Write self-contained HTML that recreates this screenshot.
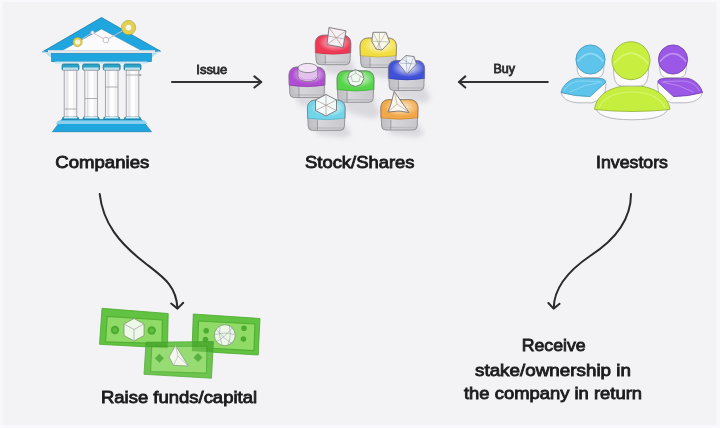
<!DOCTYPE html>
<html><head><meta charset="utf-8">
<style>
html,body{margin:0;padding:0;width:720px;height:428px;overflow:hidden;background:#f9f9fd;}
svg{display:block;filter:blur(0.35px);}
text{font-family:"Liberation Sans",sans-serif;fill:#1c1c1e;}
</style></head>
<body>
<svg width="720" height="428" viewBox="0 0 720 428">
<defs><filter id="blur" x="-50%" y="-50%" width="200%" height="200%"><feGaussianBlur stdDeviation="2.5"/></filter></defs>
<rect x="0" y="0" width="720" height="428" fill="#f9f9fd"/>
<linearGradient id="lb" x1="0" y1="0" x2="1" y2="0"><stop offset="0" stop-color="#f9f9fd"/><stop offset="1" stop-color="#f3f3f6"/></linearGradient>
<rect x="2" y="2" width="714.5" height="423" fill="#f3f3f6"/>
<rect x="0" y="2" width="4.5" height="423" fill="url(#lb)"/>

<!-- labels -->
<g font-weight="400" font-size="17" stroke="#1c1c1e" stroke-width="0.85">
<text x="55.3" y="168" textLength="94" lengthAdjust="spacingAndGlyphs">Companies</text>
<text x="305" y="168" textLength="109.5" lengthAdjust="spacingAndGlyphs">Stock/Shares</text>
<text x="596" y="168" textLength="72" lengthAdjust="spacingAndGlyphs">Investors</text>
<text x="101" y="402.5" textLength="156" lengthAdjust="spacingAndGlyphs">Raise funds/capital</text>
<text x="521.7" y="351.4" textLength="64" lengthAdjust="spacingAndGlyphs">Receive</text>
<text x="475" y="375.5" textLength="156" lengthAdjust="spacingAndGlyphs">stake/ownership in</text>
<text x="464" y="398.5" textLength="178" lengthAdjust="spacingAndGlyphs">the company in return</text>
</g>
<g font-weight="400" font-size="12" stroke="#2e2e30" stroke-width="0.8" style="fill:#2e2e30">
<text x="196.3" y="73.6" textLength="31" lengthAdjust="spacingAndGlyphs">Issue</text>
<text x="493.5" y="73.3" textLength="21.5" lengthAdjust="spacingAndGlyphs">Buy</text>
</g>

<!-- bank -->
<g id="bank">
<!-- roof -->
<polygon points="42.5,51.8 101.5,17.5 160.5,51.2" fill="#20a6de" stroke="#1a7fae" stroke-width="0.8" stroke-linejoin="round"/>
<polygon points="61.5,50.8 101.5,29 142,50.8" fill="#fbfbfd" stroke="#1a7fae" stroke-width="0.5"/>
<polyline points="77.5,42 92.5,32.5 105.8,40 128.5,27.6" fill="none" stroke="#c9bfc6" stroke-width="1"/>
<circle cx="92.5" cy="32.5" r="1.6" fill="#fff" stroke="#c9bfc6" stroke-width="0.9"/>
<circle cx="105.8" cy="40" r="2.8" fill="#fff" stroke="#c9bfc6" stroke-width="1"/>
<circle cx="77.6" cy="42" r="3.6" fill="#f6f4e2" stroke="#e2cf45" stroke-width="2"/>
<circle cx="77.6" cy="42" r="4.7" fill="none" stroke="#a59a4a" stroke-width="0.5"/>
<circle cx="128.5" cy="27.6" r="5.2" fill="#f8f6ea" stroke="#e4d04a" stroke-width="3.6"/>
<circle cx="128.5" cy="27.6" r="7.2" fill="none" stroke="#b0a040" stroke-width="0.7"/><circle cx="128.5" cy="27.6" r="3.3" fill="none" stroke="#c8b640" stroke-width="0.5"/>
<!-- pediment base line -->
<rect x="48" y="50.2" width="107" height="2.8" fill="#e2e5e9"/>
<!-- entablature -->
<polygon points="42.5,51 52.5,54 52.5,62 60,64.5" fill="#b5def0"/>
<polygon points="160,51 150,54 150,62 143,64.5" fill="#b5def0"/>
<polygon points="43,51 52.5,54 52.5,62 60,64.5 143,64.5 150,62 150,54 159.5,51 153,51 48,51" fill="#b8e0f2" opacity="0"/>
<rect x="51.5" y="53.3" width="100" height="8.3" fill="#20a6de" stroke="#1a7fae" stroke-width="0.6"/>
<rect x="55" y="61.6" width="92" height="2.3" fill="#cfe9f5"/>
<!-- columns -->
<g id="col">
<rect x="62" y="64" width="17" height="6.2" rx="1.5" fill="#2aa3c6" stroke="#1b6f8a" stroke-width="0.7"/>
<rect x="63" y="67.5" width="15" height="2.6" fill="#bfe3ee"/>
<rect x="64.2" y="70.2" width="12.6" height="47" fill="#f2f2f5" stroke="#9c9ca2" stroke-width="0.9"/>
<line x1="67" y1="71" x2="67" y2="117" stroke="#d4d4d9" stroke-width="0.8"/><rect x="69" y="71" width="4" height="46" fill="#fdfdfe"/>
<rect x="62.5" y="117.2" width="16" height="3" rx="1" fill="#2aa3c6" stroke="#1b6f8a" stroke-width="0.7"/>
<rect x="64" y="117" width="13" height="1.3" fill="#d8eef6"/>
</g>
<use href="#col" x="20.6"/>
<use href="#col" x="41.2"/>
<use href="#col" x="62"/>
<line x1="64.5" y1="109" x2="76.5" y2="109" stroke="#9c9ca2" stroke-width="0.8"/>
<line x1="85" y1="98.5" x2="97.5" y2="98.5" stroke="#9c9ca2" stroke-width="0.8"/>
<line x1="105.5" y1="87" x2="118" y2="87" stroke="#9c9ca2" stroke-width="0.8"/>
<line x1="126" y1="75" x2="138.5" y2="75" stroke="#9c9ca2" stroke-width="0.8"/>
<rect x="138.8" y="74.2" width="2.5" height="1.6" fill="#9c9ca2"/>
<!-- base -->
<polygon points="61.7,119.5 141.5,119.5 151.5,131.7 52.5,131.7" fill="#20a6de" stroke="#1a7fae" stroke-width="0.7" stroke-linejoin="round"/>
<polygon points="58.5,120.5 144.5,120.5 147.5,124 55.5,124" fill="#8ad0ec"/>
</g>

<!-- blocks start -->
<defs>
<radialGradient id="g_red" cx="0.55" cy="0.38" r="0.62"><stop offset="0" stop-color="#fafafa"/><stop offset="0.35" stop-color="#f590a4"/><stop offset="0.75" stop-color="#ee3a55"/><stop offset="1" stop-color="#ee3a55"/></radialGradient>
<radialGradient id="g_yellow" cx="0.55" cy="0.38" r="0.62"><stop offset="0" stop-color="#fafafa"/><stop offset="0.35" stop-color="#f8ee9c"/><stop offset="0.75" stop-color="#f2de3e"/><stop offset="1" stop-color="#f2de3e"/></radialGradient>
<radialGradient id="g_purple" cx="0.55" cy="0.38" r="0.62"><stop offset="0" stop-color="#fafafa"/><stop offset="0.35" stop-color="#dca8ec"/><stop offset="0.75" stop-color="#b04ed2"/><stop offset="1" stop-color="#b04ed2"/></radialGradient>
<radialGradient id="g_green" cx="0.55" cy="0.38" r="0.62"><stop offset="0" stop-color="#fafafa"/><stop offset="0.35" stop-color="#a6eaa0"/><stop offset="0.75" stop-color="#56d44a"/><stop offset="1" stop-color="#56d44a"/></radialGradient>
<radialGradient id="g_blue" cx="0.55" cy="0.38" r="0.62"><stop offset="0" stop-color="#fafafa"/><stop offset="0.35" stop-color="#a0a8ea"/><stop offset="0.75" stop-color="#4050d8"/><stop offset="1" stop-color="#4050d8"/></radialGradient>
<radialGradient id="g_cyan" cx="0.55" cy="0.38" r="0.62"><stop offset="0" stop-color="#fafafa"/><stop offset="0.35" stop-color="#c0ecf4"/><stop offset="0.75" stop-color="#72d4e8"/><stop offset="1" stop-color="#72d4e8"/></radialGradient>
<radialGradient id="g_orange" cx="0.55" cy="0.38" r="0.62"><stop offset="0" stop-color="#fafafa"/><stop offset="0.35" stop-color="#f8d09a"/><stop offset="0.75" stop-color="#f2a848"/><stop offset="1" stop-color="#f2a848"/></radialGradient>
<linearGradient id="gbody" x1="0" y1="0" x2="1" y2="0"><stop offset="0" stop-color="#bdbdc2"/><stop offset="0.28" stop-color="#cbcbcf"/><stop offset="0.29" stop-color="#d8d8dc"/><stop offset="1" stop-color="#c8c8cc"/></linearGradient>
</defs>
<path d="M319.3,56.7 L348.8,56.7 L356.8,72.7 Q354.8,76.7 346.8,76.7 L325.3,71.9 Z" fill="#d9d9de" filter="url(#blur)"/>
<path d="M364.0,59.5 L394.5,59.5 L402.5,75.5 Q400.5,79.5 392.5,79.5 L370.0,74.7 Z" fill="#d9d9de" filter="url(#blur)"/>
<path d="M293.0,89.5 L323.0,89.5 L331.0,105.5 Q329.0,109.5 321.0,109.5 L299.0,104.7 Z" fill="#d9d9de" filter="url(#blur)"/>
<path d="M341.0,94.3 L372.0,94.3 L380.0,114.3 Q378.0,118.3 370.0,118.3 L347.0,111.9 Z" fill="#d9d9de" filter="url(#blur)"/>
<path d="M392.4,82.5 L422.6,82.5 L430.6,98.5 Q428.6,102.5 420.6,102.5 L398.4,97.7 Z" fill="#d9d9de" filter="url(#blur)"/>
<path d="M311.4,122.4 L343.2,122.4 L351.2,133.4 Q349.2,137.4 341.2,137.4 L317.4,134.6 Z" fill="#d9d9de" filter="url(#blur)"/>
<path d="M384.8,122.0 L416.0,122.0 L424.0,133.0 Q422.0,137.0 414.0,137.0 L390.8,134.2 Z" fill="#d9d9de" filter="url(#blur)"/>
<g>
<path d="M324.3,35.2 H341.8 C347.8,35.2 350.8,38.2 350.8,44.2 L350.0,60.7 Q349.8,64.7 345.8,64.7 H320.3 Q316.3,64.7 316.1,60.7 L315.3,44.2 C315.3,38.2 318.3,35.2 324.3,35.2 Z" fill="url(#gbody)"/>
<line x1="316.3" y1="62.2" x2="349.8" y2="62.2" stroke="#bcbcc1" stroke-width="1.5"/>
<line x1="325.3" y1="54.8" x2="325.3" y2="64.2" stroke="#85858b" stroke-width="0.7"/>
<path d="M324.3,35.2 H341.8 C347.8,35.2 350.8,38.2 350.8,44.2 V52.8 Q333.1,55.8 315.3,52.8 V44.2 C315.3,38.2 318.3,35.2 324.3,35.2 Z" fill="url(#g_red)" stroke="#b02a40" stroke-width="0.5"/>
<path d="M324.3,35.2 H341.8 C347.8,35.2 350.8,38.2 350.8,44.2 L350.0,60.7 Q349.8,64.7 345.8,64.7 H320.3 Q316.3,64.7 316.1,60.7 L315.3,44.2 C315.3,38.2 318.3,35.2 324.3,35.2 Z" fill="none" stroke="#808086" stroke-width="0.75"/>
<polygon points="329,27.5 346,30.8 343,47.5 327,44.5" fill="#f6f0f2" stroke="#66666c" stroke-width="0.8" stroke-linejoin="round"/>
<path d="M329,27.5 L343,47.5 M346,30.8 L327,44.5 M328,36 L344.5,39" fill="none" stroke="#a08890" stroke-width="0.6"/>
</g>
<g>
<path d="M369.0,38.0 H387.5 C393.5,38.0 396.5,41.0 396.5,47.0 L395.7,63.5 Q395.5,67.5 391.5,67.5 H365.0 Q361.0,67.5 360.8,63.5 L360.0,47.0 C360.0,41.0 363.0,38.0 369.0,38.0 Z" fill="url(#gbody)"/>
<line x1="361.0" y1="65.0" x2="395.5" y2="65.0" stroke="#bcbcc1" stroke-width="1.5"/>
<line x1="370.0" y1="57.6" x2="370.0" y2="67.0" stroke="#85858b" stroke-width="0.7"/>
<path d="M369.0,38.0 H387.5 C393.5,38.0 396.5,41.0 396.5,47.0 V55.6 Q378.2,58.6 360.0,55.6 V47.0 C360.0,41.0 363.0,38.0 369.0,38.0 Z" fill="url(#g_yellow)" stroke="#a89828" stroke-width="0.5"/>
<path d="M369.0,38.0 H387.5 C393.5,38.0 396.5,41.0 396.5,47.0 L395.7,63.5 Q395.5,67.5 391.5,67.5 H365.0 Q361.0,67.5 360.8,63.5 L360.0,47.0 C360.0,41.0 363.0,38.0 369.0,38.0 Z" fill="none" stroke="#808086" stroke-width="0.75"/>
<polygon points="373,32.3 386,32.3 389.6,42 382,50 376,49 371.8,41.2" fill="#faf8ea" stroke="#66666c" stroke-width="0.8" stroke-linejoin="round"/>
<path d="M373,32.3 L382,50 M386,32.3 L376,49 M371.8,41.2 L389.6,42 M379.5,32.3 L379,49.5" fill="none" stroke="#a0a090" stroke-width="0.55"/>
</g>
<g>
<path d="M298.0,67.0 H316.0 C322.0,67.0 325.0,70.0 325.0,76.0 L324.2,93.5 Q324.0,97.5 320.0,97.5 H294.0 Q290.0,97.5 289.8,93.5 L289.0,76.0 C289.0,70.0 292.0,67.0 298.0,67.0 Z" fill="url(#gbody)"/>
<line x1="290.0" y1="95.0" x2="324.0" y2="95.0" stroke="#bcbcc1" stroke-width="1.5"/>
<line x1="299.0" y1="87.2" x2="299.0" y2="97.0" stroke="#85858b" stroke-width="0.7"/>
<path d="M298.0,67.0 H316.0 C322.0,67.0 325.0,70.0 325.0,76.0 V85.2 Q307.0,88.2 289.0,85.2 V76.0 C289.0,70.0 292.0,67.0 298.0,67.0 Z" fill="url(#g_purple)" stroke="#7a2a98" stroke-width="0.5"/>
<path d="M298.0,67.0 H316.0 C322.0,67.0 325.0,70.0 325.0,76.0 L324.2,93.5 Q324.0,97.5 320.0,97.5 H294.0 Q290.0,97.5 289.8,93.5 L289.0,76.0 C289.0,70.0 292.0,67.0 298.0,67.0 Z" fill="none" stroke="#808086" stroke-width="0.75"/>
<path d="M298,68 V76.5 A9.8,5 0 0 0 317.7,76.5 V68" fill="#e4c0ee" stroke="#6a6a70" stroke-width="0.7"/>
<ellipse cx="307.85" cy="68" rx="9.85" ry="4.6" fill="#f2e4f6" stroke="#6a6a70" stroke-width="0.7"/>
<path d="M300,77 A8,3.5 0 0 0 315.7,77" fill="none" stroke="#c88ee0" stroke-width="0.8"/>
</g>
<g>
<path d="M346.0,70.8 H365.0 C371.0,70.8 374.0,73.8 374.0,79.8 L373.2,98.3 Q373.0,102.3 369.0,102.3 H342.0 Q338.0,102.3 337.8,98.3 L337.0,79.8 C337.0,73.8 340.0,70.8 346.0,70.8 Z" fill="url(#gbody)"/>
<line x1="338.0" y1="99.8" x2="373.0" y2="99.8" stroke="#bcbcc1" stroke-width="1.5"/>
<line x1="347.0" y1="91.6" x2="347.0" y2="101.8" stroke="#85858b" stroke-width="0.7"/>
<path d="M346.0,70.8 H365.0 C371.0,70.8 374.0,73.8 374.0,79.8 V89.6 Q355.5,92.6 337.0,89.6 V79.8 C337.0,73.8 340.0,70.8 346.0,70.8 Z" fill="url(#g_green)" stroke="#2f9a2c" stroke-width="0.5"/>
<path d="M346.0,70.8 H365.0 C371.0,70.8 374.0,73.8 374.0,79.8 L373.2,98.3 Q373.0,102.3 369.0,102.3 H342.0 Q338.0,102.3 337.8,98.3 L337.0,79.8 C337.0,73.8 340.0,70.8 346.0,70.8 Z" fill="none" stroke="#808086" stroke-width="0.75"/>
<polygon points="355.7,69.7 362,72.5 364,78.5 361,84.5 355.7,86.5 350,84.5 347.4,78.5 349.4,72.5" fill="#f0faee" stroke="#66666c" stroke-width="0.8" stroke-linejoin="round"/>
<path d="M351,76 L355.7,73 L360.5,76 L359,81.5 L352.5,81.5 Z M355.7,69.7 V73 M364,78.5 L360.5,76 M347.4,78.5 L351,76" fill="none" stroke="#909a90" stroke-width="0.55"/>
</g>
<g>
<path d="M397.4,60.5 H415.6 C421.6,60.5 424.6,63.5 424.6,69.5 L423.8,86.5 Q423.6,90.5 419.6,90.5 H393.4 Q389.4,90.5 389.2,86.5 L388.4,69.5 C388.4,63.5 391.4,60.5 397.4,60.5 Z" fill="url(#gbody)"/>
<line x1="389.4" y1="88.0" x2="423.6" y2="88.0" stroke="#bcbcc1" stroke-width="1.5"/>
<line x1="398.4" y1="80.4" x2="398.4" y2="90.0" stroke="#85858b" stroke-width="0.7"/>
<path d="M397.4,60.5 H415.6 C421.6,60.5 424.6,63.5 424.6,69.5 V78.4 Q406.5,81.4 388.4,78.4 V69.5 C388.4,63.5 391.4,60.5 397.4,60.5 Z" fill="url(#g_blue)" stroke="#26309a" stroke-width="0.5"/>
<path d="M397.4,60.5 H415.6 C421.6,60.5 424.6,63.5 424.6,69.5 L423.8,86.5 Q423.6,90.5 419.6,90.5 H393.4 Q389.4,90.5 389.2,86.5 L388.4,69.5 C388.4,63.5 391.4,60.5 397.4,60.5 Z" fill="none" stroke="#808086" stroke-width="0.75"/>
<polygon points="398,63 406,55.5 414,56.5 416.5,64 407,74" fill="#f0f2fa" stroke="#66666c" stroke-width="0.8" stroke-linejoin="round"/>
<path d="M398,63 L416.5,64 M406,55.5 L407,74 M414,56.5 L407,74 M402,59 L411,64" fill="none" stroke="#9098b0" stroke-width="0.55"/>
</g>
<g>
<path d="M316.4,100.0 H336.2 C342.2,100.0 345.2,103.0 345.2,109.0 L344.4,126.4 Q344.2,130.4 340.2,130.4 H312.4 Q308.4,130.4 308.2,126.4 L307.4,109.0 C307.4,103.0 310.4,100.0 316.4,100.0 Z" fill="url(#gbody)"/>
<line x1="308.4" y1="127.9" x2="344.2" y2="127.9" stroke="#bcbcc1" stroke-width="1.5"/>
<line x1="317.4" y1="120.2" x2="317.4" y2="129.9" stroke="#85858b" stroke-width="0.7"/>
<path d="M316.4,100.0 H336.2 C342.2,100.0 345.2,103.0 345.2,109.0 V118.2 Q326.3,121.2 307.4,118.2 V109.0 C307.4,103.0 310.4,100.0 316.4,100.0 Z" fill="url(#g_cyan)" stroke="#3a9eb4" stroke-width="0.5"/>
<path d="M316.4,100.0 H336.2 C342.2,100.0 345.2,103.0 345.2,109.0 L344.4,126.4 Q344.2,130.4 340.2,130.4 H312.4 Q308.4,130.4 308.2,126.4 L307.4,109.0 C307.4,103.0 310.4,100.0 316.4,100.0 Z" fill="none" stroke="#808086" stroke-width="0.75"/>
<polygon points="326,94.5 336.5,100 336.5,110.5 326,116 315.5,110.5 315.5,100" fill="#f2fafa" stroke="#66666c" stroke-width="0.8" stroke-linejoin="round"/>
<path d="M315.5,100 L336.5,110.5 M336.5,100 L315.5,110.5 M326,94.5 V116" fill="none" stroke="#a08a80" stroke-width="0.6"/>
</g>
<g>
<path d="M389.8,99.6 H409.0 C415.0,99.6 418.0,102.6 418.0,108.6 L417.2,126.0 Q417.0,130.0 413.0,130.0 H385.8 Q381.8,130.0 381.6,126.0 L380.8,108.6 C380.8,102.6 383.8,99.6 389.8,99.6 Z" fill="url(#gbody)"/>
<line x1="381.8" y1="127.5" x2="417.0" y2="127.5" stroke="#bcbcc1" stroke-width="1.5"/>
<line x1="390.8" y1="119.8" x2="390.8" y2="129.5" stroke="#85858b" stroke-width="0.7"/>
<path d="M389.8,99.6 H409.0 C415.0,99.6 418.0,102.6 418.0,108.6 V117.8 Q399.4,120.8 380.8,117.8 V108.6 C380.8,102.6 383.8,99.6 389.8,99.6 Z" fill="url(#g_orange)" stroke="#b07020" stroke-width="0.5"/>
<path d="M389.8,99.6 H409.0 C415.0,99.6 418.0,102.6 418.0,108.6 L417.2,126.0 Q417.0,130.0 413.0,130.0 H385.8 Q381.8,130.0 381.6,126.0 L380.8,108.6 C380.8,102.6 383.8,99.6 389.8,99.6 Z" fill="none" stroke="#808086" stroke-width="0.75"/>
<polygon points="394.2,91.4 409,112.5 399,111 388,112 391,104" fill="#fbf6ee" stroke="#66666c" stroke-width="0.8" stroke-linejoin="round"/>
<path d="M394.2,91.4 L397,104 L388,112 M397,104 L409,112.5" fill="none" stroke="#a09080" stroke-width="0.55"/>
</g>
<!-- blocks end -->

<!-- people start -->
<path d="M561,92.5 Q563,101.5 577,102.8 L592,102.8 Q601,100 605,92 L606,84 L605.5,82 Z" fill="#fbfbfd" stroke="#a8a8ae" stroke-width="0.8" stroke-linejoin="round"/>
<path d="M561,92.5 C562.5,86 569,79 577,78.2 L601,78.6 C604,78.9 606,80.5 605.5,82.5 L590,96.6 Q575,96.5 561,92.5 Z" fill="#5fc4ec" stroke="#3e94b8" stroke-width="0.8" stroke-linejoin="round"/>
<path d="M564,91 C567,85 573,81 582,81 L600,81.5 M570,92 Q585,84 602,82" fill="none" stroke="#9adcf6" stroke-width="1" opacity="0.7"/>
<path d="M577.068,64.61 Q576.63,77.5 583.2,77.5 L597.8,77.5 Q604.37,77.5 603.932,64.61 Z" fill="#fbfbfd" stroke="#a8a8ae" stroke-width="0.8"/>
<circle cx="590.5" cy="59.5" r="14.6" fill="#5fc4ec" stroke="#3e94b8" stroke-width="0.8"/>
<path d="M577.36,61.69 Q590.5,45.63 603.64,61.69" fill="none" stroke="#9adcf6" stroke-width="1.6" opacity="0.85"/>
<g transform="translate(1263.5 0) scale(-1 1)"><path d="M561,92.5 Q563,101.5 577,102.8 L592,102.8 Q601,100 605,92 L606,84 L605.5,82 Z" fill="#fbfbfd" stroke="#a8a8ae" stroke-width="0.8" stroke-linejoin="round"/>
<path d="M561,92.5 C562.5,86 569,79 577,78.2 L601,78.6 C604,78.9 606,80.5 605.5,82.5 L590,96.6 Q575,96.5 561,92.5 Z" fill="#9b58e6" stroke="#6b3aaa" stroke-width="0.8" stroke-linejoin="round"/>
<path d="M564,91 C567,85 573,81 582,81 L600,81.5 M570,92 Q585,84 602,82" fill="none" stroke="#c49af2" stroke-width="1" opacity="0.7"/>
<path d="M577.068,64.61 Q576.63,77.5 583.2,77.5 L597.8,77.5 Q604.37,77.5 603.932,64.61 Z" fill="#fbfbfd" stroke="#a8a8ae" stroke-width="0.8"/>
<circle cx="590.5" cy="59.5" r="14.6" fill="#9b58e6" stroke="#6b3aaa" stroke-width="0.8"/>
<path d="M577.36,61.69 Q590.5,45.63 603.64,61.69" fill="none" stroke="#c49af2" stroke-width="1.6" opacity="0.85"/></g>
<path d="M595.5,106 Q596,119.8 632,119.8 Q668,119.8 668.5,106 Z" fill="#fbfbfd" stroke="#a8a8ae" stroke-width="0.8"/>
<path d="M594.5,109.5 C596,95 611,85.5 632,85.5 C653,85.5 668,95 670,109.5 Q632,113.5 594.5,109.5 Z" fill="#c6ee3e" stroke="#8fae3a" stroke-width="0.8"/>
<path d="M599,108 C603,98 615,92 632,92 C649,92 661,98 665,108" fill="none" stroke="#dcf87e" stroke-width="1.2" opacity="0.85"/>
<path d="M613.52,67.35000000000001 Q612.95,86 621.5,86 L640.5,86 Q649.05,86 648.48,67.35000000000001 Z" fill="#fbfbfd" stroke="#a8a8ae" stroke-width="0.8"/>
<circle cx="631" cy="60.7" r="19" fill="#c8ee40" stroke="#8fae3a" stroke-width="0.8"/>
<path d="M613.9,63.550000000000004 Q631,42.650000000000006 648.1,63.550000000000004" fill="none" stroke="#dcf87e" stroke-width="1.6" opacity="0.85"/>
<!-- people end -->
<!-- money start -->
<g><polygon points="102,308.3 168.2,313.5 167.5,348 99.5,344.3" fill="#62c242" stroke="#4aa82c" stroke-width="0.8" stroke-linejoin="round"/>
<polygon points="107.2,316.3 162.4,320 162,343.5 105.5,341.8" fill="#90da68" stroke="#52b032" stroke-width="1.2" stroke-linejoin="round"/>
<circle cx="115" cy="330" r="4.2" fill="#4cac30"/><circle cx="115" cy="330" r="2" fill="#62c242"/>
<circle cx="151.7" cy="330.5" r="4.2" fill="#4cac30"/><circle cx="151.7" cy="330.5" r="2" fill="#62c242"/>
<polygon points="134,318.5 144,324 144,335.5 134,341 124,335.5 124,324" fill="#eef8e8" stroke="#7a9a70" stroke-width="0.8"/>
<path d="M124,324 L134,329.5 L144,324 M134,329.5 V341" fill="none" stroke="#9aa0a0" stroke-width="0.7"/></g>
<g><polygon points="193.3,314 260,318.5 258.2,355 192,351" fill="#62c242" stroke="#4aa82c" stroke-width="0.8" stroke-linejoin="round"/>
<polygon points="198.5,321 255,324 254,350.6 197.5,347.5" fill="#90da68" stroke="#52b032" stroke-width="1.2" stroke-linejoin="round"/>
<circle cx="206.2" cy="330.7" r="2.8" fill="#4cac30"/><circle cx="205.5" cy="339.5" r="2.8" fill="#4cac30"/>
<circle cx="244" cy="328.3" r="2.8" fill="#4cac30"/><circle cx="243.4" cy="339" r="2.8" fill="#4cac30"/>
<circle cx="224.8" cy="335.2" r="10.5" fill="#eef8e8" stroke="#7a9a70" stroke-width="0.8"/>
<path d="M216,329 Q225,340 233,344 M233,327 Q224,338 216,342 M214.5,335 Q225,331 235,335 M220,325.5 Q218,335 222,345 M229,325.5 Q232,335 228,345" fill="none" stroke="#9aa0a8" stroke-width="0.6"/></g>
<g opacity="0.92"><polygon points="146,342.2 213.4,341.6 211.5,378.2 144,374.3" fill="#62c242" stroke="#4aa82c" stroke-width="0.8" stroke-linejoin="round"/>
<polygon points="151.7,346.5 207,346 206.5,373.2 150.5,371.5" fill="#90da68" stroke="#52b032" stroke-width="1.2" stroke-linejoin="round"/>
<polygon points="159.4,353.8 163.9,358.3 159.4,362.8 154.9,358.3" fill="#4cac30"/>
<polygon points="198,353.1 202.5,357.6 198,362.1 193.5,357.6" fill="#4cac30"/>
<polygon points="175.5,345.4 188.3,366 173.5,365.3 169,357" fill="#f2faec" stroke="#7a9a70" stroke-width="0.8" stroke-linejoin="round"/>
<path d="M175.5,345.4 L178,356 L173.5,365.3 M178,356 L188.3,366" fill="none" stroke="#a8a0b0" stroke-width="0.6"/></g>
<clipPath id="b12"><polygon points="102,308.3 168.2,313.5 167.5,348 99.5,344.3"/><polygon points="193.3,314 260,318.5 258.2,355 192,351"/></clipPath>
<g clip-path="url(#b12)"><polygon points="146,342.2 213.4,341.6 211.5,378.2 144,374.3" fill="#2e8c18" opacity="0.38"/></g>
<!-- money end -->

<!-- arrows -->
<g fill="none" stroke="#2a2a2c" stroke-width="2" stroke-linecap="round" stroke-linejoin="round">
<g stroke-width="2.1" stroke="#323234">
<path d="M172 82 H261"/>
<path d="M254.4 76.4 L261.3 82 L254.4 87.5"/>
<path d="M459 82 H547.8"/>
<path d="M465.3 76.4 L459 82 L465.3 87.5"/>
</g>
<path d="M99.7 194 C103 223 119 243 145 263 C163 277 176 285 177.5 308"/>
<path d="M171.2 303.5 L177.5 308.6 L183.2 302.8"/>
<path d="M631 194 C631 218 618 238 590 256 C565 273 554 290 553.7 308"/>
<path d="M548.4 303 L553.6 308.6 L559.6 303.8"/>
</g>

</svg>
</body></html>
